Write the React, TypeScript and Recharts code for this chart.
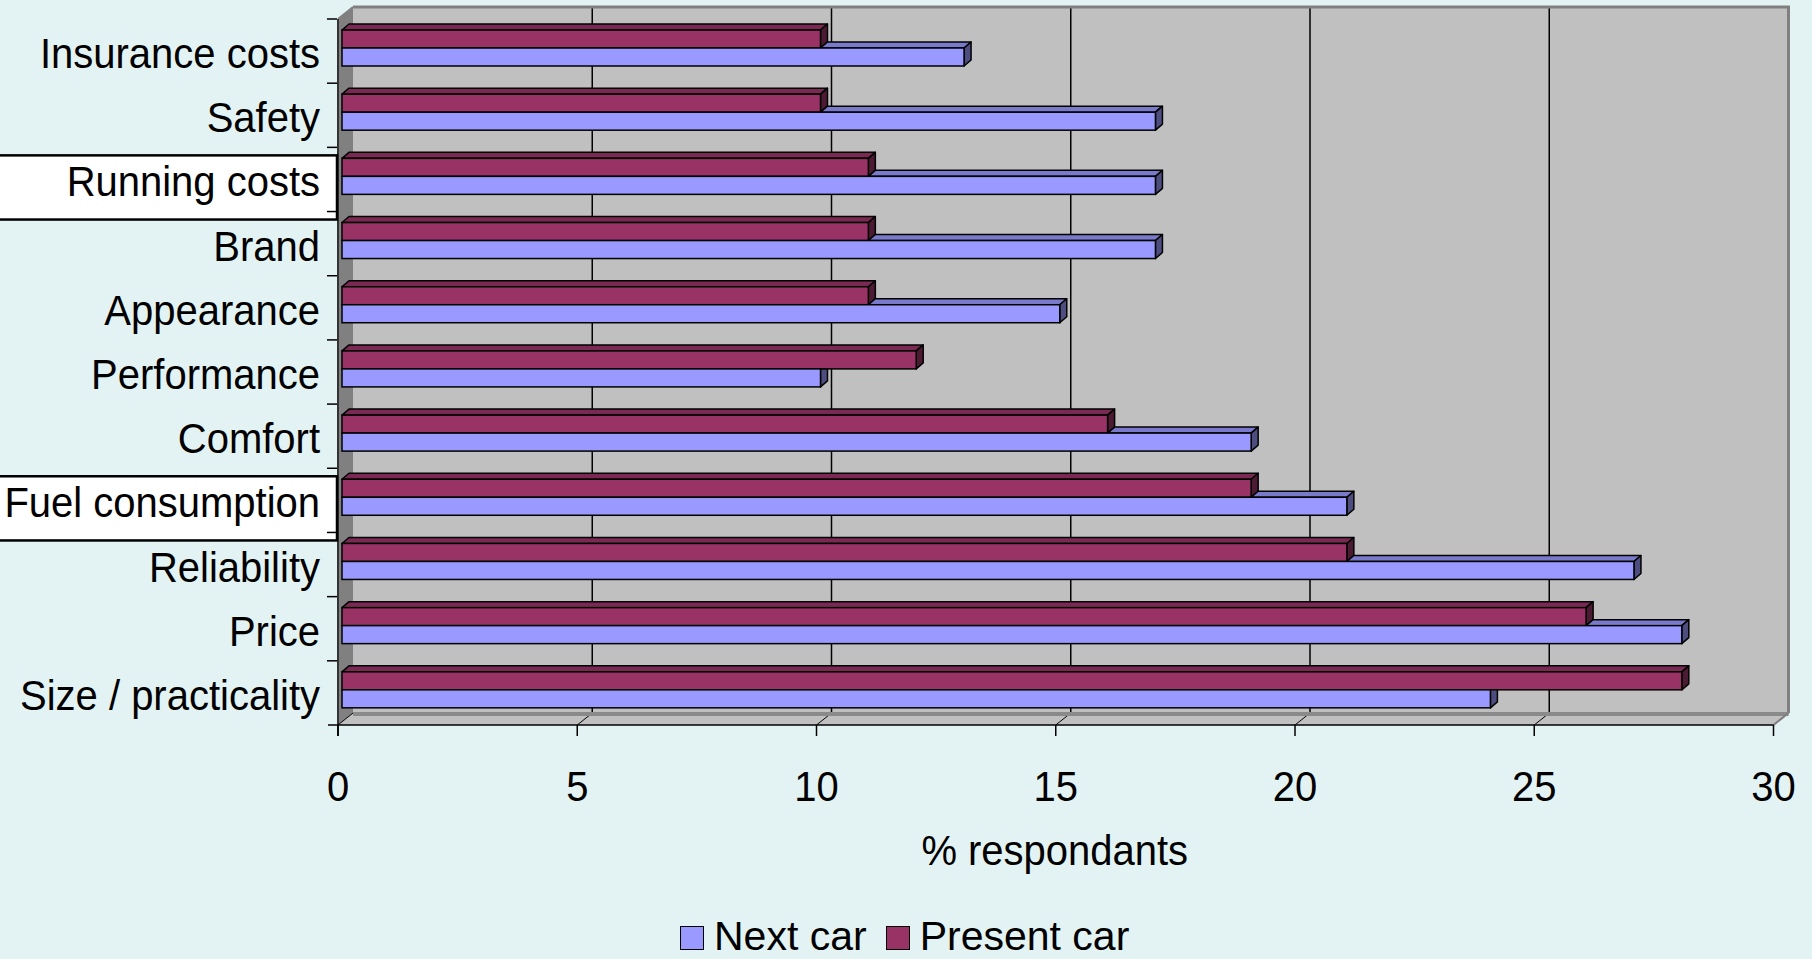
import React from "react";
import { BarChart, Bar, XAxis, YAxis, ReferenceArea } from "recharts";

// Reasons for choosing a car: present car vs next car (% respondants)
const categories = [
  "Insurance costs",
  "Safety",
  "Running costs",
  "Brand",
  "Appearance",
  "Performance",
  "Comfort",
  "Fuel consumption",
  "Reliability",
  "Price",
  "Size / practicality",
];
const nextCar = [13, 17, 17, 17, 15, 10, 19, 21, 27, 28, 24];
const presentCar = [10, 10, 11, 11, 11, 12, 16, 19, 21, 26, 28];
const xTicks = [0, 5, 10, 15, 20, 25, 30];
const highlighted = ["Running costs", "Fuel consumption"];

const data = categories.map((name, i) => ({
  name,
  next: nextCar[i],
  present: presentCar[i],
}));

const CHART_W = 1812;
const CHART_H = 959;
const MARGIN = { top: 16, right: 34.5, bottom: 0, left: 0 };
const Y_AXIS_W = 342;
const X_AXIS_H = 237;
const PLOT_H = CHART_H - MARGIN.top - X_AXIS_H;
const BAND = PLOT_H / categories.length;

// fake 3D: offsets of the front and back planes from the bar plane
const FRONT = { dx: -4, dy: 3 };
const BACK = { dx: 11, dy: -9 };
const BAR_DEPTH = { dx: 7, dy: 6 };

const FONT = "'Liberation Sans', Arial, sans-serif";
const BG = "#E3F3F3";
const STRETCH = 1.07; // the original text is a little taller than Arial

const COLORS = {
  next: { front: "#9999FF", top: "#7A7ACC", side: "#4D4D80" },
  present: { front: "#993366", top: "#7A2952", side: "#4D1A33" },
};

const pts = (arr: number[][]) => arr.map((p) => p.join(",")).join(" ");

const Label = ({ x, y, anchor, size, children }: any) => (
  <text
    transform={`translate(${x},${y}) scale(1,${STRETCH})`}
    textAnchor={anchor}
    fontSize={size}
    fontFamily={FONT}
    fill="#000"
  >
    {children}
  </text>
);

// walls, floor, gridlines and front axis of the 3D frame
const Frame = (props: any) => {
  const { x, y, width, height } = props;
  const xMax = xTicks[xTicks.length - 1];
  const px = (v: number) => (width * v) / xMax;
  const fx0 = x + FRONT.dx;
  const fx1 = x + width + FRONT.dx;
  const fy0 = y + FRONT.dy;
  const fy1 = y + height + FRONT.dy;
  const bx0 = x + BACK.dx;
  const bx1 = x + width + BACK.dx;
  const by0 = y + BACK.dy;
  const by1 = y + height + BACK.dy;

  return (
    <g>
      <rect x={bx0} y={by0} width={width} height={height} fill="#C0C0C0" />
      <polygon points={pts([[fx0, fy0], [bx0, by0], [bx0, by1], [fx0, fy1]])} fill="#808080" />
      <polygon points={pts([[fx0, fy1], [bx0, by1], [bx1, by1], [fx1, fy1]])} fill="#C0C0C0" />
      {xTicks
        .filter((v) => v > 0 && v < xMax)
        .map((v) => (
          <line key={`g${v}`} x1={bx0 + px(v)} x2={bx0 + px(v)} y1={by0} y2={by1} stroke="#000" strokeWidth={1.5} />
        ))}
      {xTicks.map((v) => (
        <line key={`d${v}`} x1={fx0 + px(v)} y1={fy1} x2={bx0 + px(v)} y2={by1} stroke="#000" strokeWidth={1} />
      ))}
      <polyline points={pts([[bx0, by0], [bx1, by0], [bx1, by1]])} fill="none" stroke="#808080" strokeWidth={3} />
      <line x1={bx0} x2={bx1} y1={by1 + 1} y2={by1 + 1} stroke="#8A8A8A" strokeWidth={4} />
      <line x1={fx1} y1={fy1} x2={bx1} y2={by1} stroke="#808080" strokeWidth={2} />
      <line x1={fx0} y1={fy0} x2={bx0} y2={by0} stroke="#808080" strokeWidth={2} />
      <line x1={fx0} x2={fx0} y1={fy0} y2={fy1 + 11} stroke="#333" strokeWidth={2} />
      <line x1={fx0 - 10} x2={fx1} y1={fy1} y2={fy1} stroke="#000" strokeWidth={1.5} />
      {xTicks.map((v) => (
        <line key={`t${v}`} x1={fx0 + px(v)} x2={fx0 + px(v)} y1={fy1} y2={fy1 + 11} stroke="#000" strokeWidth={1.5} />
      ))}
      <Label x={x + width / 2 - 5} y={y + height + 143} anchor="middle" size={40}>
        % respondants
      </Label>
    </g>
  );
};

const CategoryTick = (props: any) => {
  const { x, y, payload } = props;
  const fy = y + FRONT.dy;
  const tickY = fy - BAND / 2;
  return (
    <g>
      {highlighted.includes(payload.value) && (
        <rect x={-4} y={tickY + 8} width={x - 5 + 4} height={BAND} fill="#fff" stroke="#000" strokeWidth={2.5} />
      )}
      <line x1={x - 15} x2={x - 5} y1={tickY} y2={tickY} stroke="#000" strokeWidth={1.5} />
      <Label x={x - 22} y={fy + 17} anchor="end" size={40}>
        {payload.value}
      </Label>
    </g>
  );
};

const ValueTick = (props: any) => {
  const { x, y, payload } = props;
  return (
    <Label x={x + FRONT.dx} y={y + 79} anchor="middle" size={40}>
      {payload.value}
    </Label>
  );
};

const make3DBar = (key: "next" | "present") => (props: any) => {
  const { x, y, width: w, height: h, payload } = props;
  if (!w || w <= 0) return null;
  const c = COLORS[key];
  const { dx, dy } = BAR_DEPTH;
  const sw = 1.5;
  let top: number[][] | null = [[x, y], [x + dx, y - dy], [x + w + dx, y - dy], [x + w, y]];
  let side = [[x + w, y], [x + w + dx, y - dy], [x + w + dx, y + h - dy], [x + w, y + h]];
  if (key === "next") {
    // the present-car bar sits on top of this one and hides part of it
    const pe = x + (w * payload.present) / payload.next;
    if (pe < x + w) {
      top = [[pe, y], [pe + dx, y - dy], [x + w + dx, y - dy], [x + w, y]];
    } else {
      top = null;
      side = [[x + w, y], [x + w + dx, y], [x + w + dx, y + h - dy], [x + w, y + h]];
    }
  }
  return (
    <g>
      {top && <polygon points={pts(top)} fill={c.top} stroke="#000" strokeWidth={sw} strokeLinejoin="round" />}
      <polygon points={pts(side)} fill={c.side} stroke="#000" strokeWidth={sw} strokeLinejoin="round" />
      <rect x={x} y={y} width={w} height={h} fill={c.front} stroke="#000" strokeWidth={sw} />
    </g>
  );
};

const legendItems = [
  { label: "Next car", color: COLORS.next.front },
  { label: "Present car", color: COLORS.present.front },
];

export default function App() {
  return (
    <div style={{ position: "absolute", left: 0, top: 0, width: CHART_W, height: CHART_H, background: BG, overflow: "hidden" }}>
      <BarChart
        width={CHART_W}
        height={CHART_H}
        data={data}
        layout="vertical"
        margin={MARGIN}
        barSize={18}
        barGap={0}
      >
        <XAxis
          type="number"
          domain={[xTicks[0], xTicks[xTicks.length - 1]]}
          ticks={xTicks}
          height={X_AXIS_H}
          axisLine={false}
          tickLine={false}
          tickSize={0}
          tickMargin={0}
          tick={<ValueTick />}
        />
        <YAxis
          type="category"
          dataKey="name"
          width={Y_AXIS_W}
          interval={0}
          axisLine={false}
          tickLine={false}
          tickSize={0}
          tickMargin={0}
          tick={<CategoryTick />}
        />
        <ReferenceArea x1={xTicks[0]} x2={xTicks[xTicks.length - 1]} shape={<Frame />} ifOverflow="visible" />
        <Bar dataKey="present" name="Present car" isAnimationActive={false} shape={make3DBar("present")} />
        <Bar dataKey="next" name="Next car" isAnimationActive={false} shape={make3DBar("next")} />
      </BarChart>
      <div
        style={{
          position: "absolute",
          left: 680,
          top: 916,
          display: "flex",
          alignItems: "flex-start",
          fontFamily: FONT,
          fontSize: 41,
          lineHeight: "41px",
          color: "#000",
          whiteSpace: "nowrap",
        }}
      >
        {legendItems.map((it) => (
          <div key={it.label} style={{ display: "flex", alignItems: "flex-start", marginRight: 19 }}>
            <span
              style={{
                display: "inline-block",
                width: 22,
                height: 22,
                marginTop: 10,
                marginRight: 10,
                background: it.color,
                border: "1.5px solid #000",
              }}
            />
            <span>{it.label}</span>
          </div>
        ))}
      </div>
    </div>
  );
}
